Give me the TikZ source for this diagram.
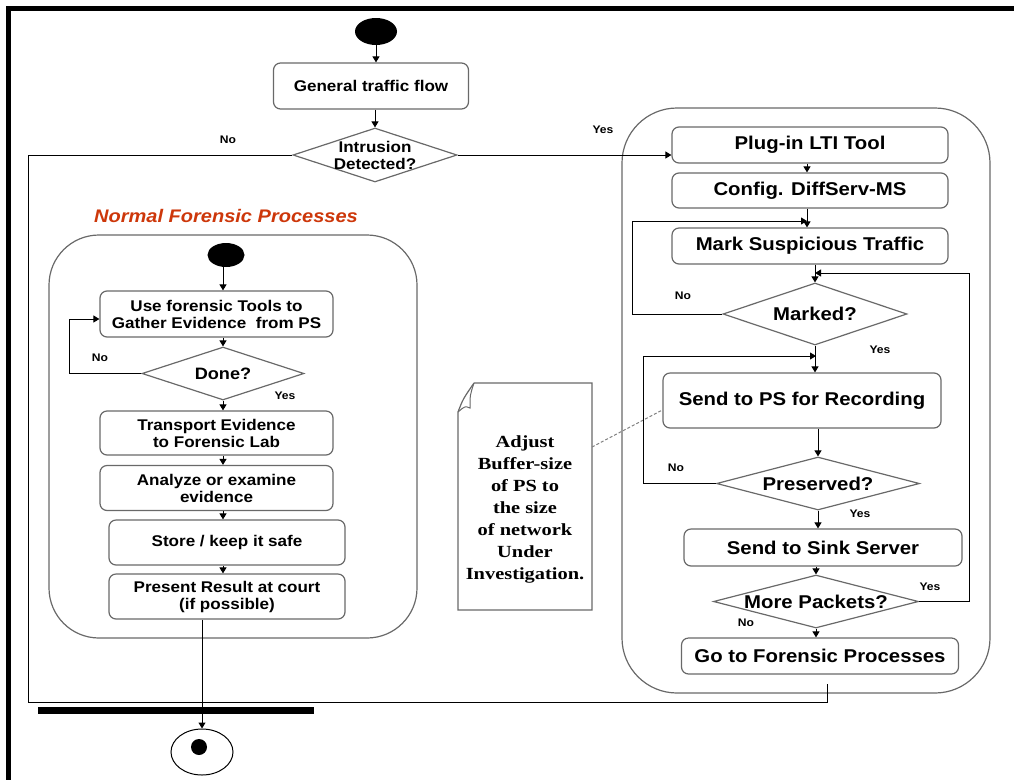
\documentclass[tikz,border=0pt]{standalone}
\usepackage{fontspec}
\newfontfamily\bx[FakeStretch=1.1]{Liberation Sans}
\newfontfamily\nt[FakeStretch=1.2]{Liberation Serif}
\usetikzlibrary{shapes.geometric,arrows.meta}
\definecolor{boxgray}{RGB}{105,105,105}
\definecolor{titlered}{RGB}{205,55,10}
\tikzset{
  box/.style={draw=boxgray, line width=1.2pt, rounded corners=7pt, fill=white, align=center, inner sep=0pt,
    font=\bx\bfseries\fontsize{15.5}{17}\selectfont},
  rbox/.style={box, font=\bx\bfseries\fontsize{18.5}{21}\selectfont},
  dia/.style={diamond, draw=boxgray, line width=1.2pt, inner sep=0pt, fill=white},
  dlab/.style={align=center, inner sep=0pt, font=\bx\bfseries\fontsize{15.5}{17}\selectfont},
  rdlab/.style={dlab, font=\bx\bfseries\fontsize{18.5}{21}\selectfont},
  startnode/.style={ellipse, fill=black, inner sep=0pt},
  cont/.style={draw=boxgray, line width=1.2pt, rounded corners=50pt},
  arr/.style={line width=1pt, -{Triangle[length=6pt,width=7pt]}},
  conn/.style={line width=1pt},
  small/.style={font=\bx\bfseries\fontsize{11}{12}\selectfont, inner sep=0pt},
  notetext/.style={align=center, inner sep=0pt, font=\nt\bfseries\fontsize{17}{22}\selectfont},
}
\begin{document}
\begin{tikzpicture}[x=1pt,y=-1pt]
\useasboundingbox (0,0) rectangle (1014,780);
% frame
\fill[black] (6,6) rectangle (1014,11);
\fill[black] (6,6) rectangle (11,780);

% containers
\draw[cont] (49,235) rectangle (417,638);
\draw[cont, rounded corners=55pt] (622,108) rectangle (990,693);

% title
\node[font=\bx\bfseries\itshape\fontsize{18.2}{20}\selectfont, text=titlered, inner sep=0pt] (title) at (226,216) {Normal Forensic Processes};

% top part
\node[startnode, minimum width=42pt, minimum height=27pt] (s1) at (376,31.5) {};
\node[box, minimum width=195pt, minimum height=46pt] (gtf) at (371,86) {General traffic flow};
\node[dia, minimum width=164pt, minimum height=54pt, label={[dlab]center:{Intrusion\\Detected?}}] (intr) at (375,155) {};

% right column
\node[rbox, minimum width=276pt, minimum height=36pt] (plug) at (810,145) {Plug-in LTI Tool};
\node[rbox, minimum width=276pt, minimum height=35pt] (cfg) at (810,190.5) {Config. DiffServ-MS};
\node[rbox, minimum width=276pt, minimum height=36pt] (mark) at (810,246) {Mark Suspicious Traffic};
\node[dia, minimum width=184pt, minimum height=62pt, label={[rdlab]center:{Marked?}}] (marked) at (815,314) {};
\node[rbox, minimum width=278pt, minimum height=55pt] (send) at (802,400.5) {Send to PS for Recording};
\node[dia, minimum width=203pt, minimum height=53pt, label={[rdlab]center:{Preserved?}}] (pres) at (818,483.5) {};
\node[rbox, minimum width=278pt, minimum height=37pt] (sink) at (823,547.5) {Send to Sink Server};
\node[dia, minimum width=205pt, minimum height=53pt, label={[rdlab]center:{More Packets?}}] (more) at (816,601.5) {};
\node[rbox, minimum width=277pt, minimum height=36pt] (goto) at (820,656) {Go to Forensic Processes};

% left column
\node[startnode, minimum width=37pt, minimum height=24pt] (s2) at (226,255) {};
\node[box, minimum width=233pt, minimum height=46pt] (use) at (216.5,314) {Use forensic Tools to\\Gather Evidence\ \ from PS};
\node[dia, minimum width=162pt, minimum height=53pt, label={[dlab, font=\bx\bfseries\fontsize{16.5}{18}\selectfont]center:{Done?}}] (done) at (223,373.5) {};
\node[box, minimum width=233pt, minimum height=44pt] (trans) at (216.5,433) {Transport Evidence\\to Forensic Lab};
\node[box, minimum width=233pt, minimum height=45pt] (anal) at (216.5,488) {Analyze or examine\\evidence};
\node[box, minimum width=236pt, minimum height=45pt] (store) at (227,542.5) {Store / keep it safe};
\node[box, minimum width=236pt, minimum height=45pt] (pres2) at (227,596.5) {Present Result at court\\(if possible)};

% end
\fill[black] (38,707) rectangle (314,714);
\node[ellipse, draw=black, line width=1pt, fill=white, minimum width=62pt, minimum height=46pt, inner sep=0pt] (final) at (202,752) {};
\fill[black] ([xshift=-3pt,yshift=5pt]final.center) circle (8);

% note
\draw[boxgray, line width=1.2pt, fill=white]
  (474,383) -- (592,383) -- (592,610) -- (458,610) -- (458,412)
  .. controls (463,399) .. (474,383);
\draw[boxgray, line width=1pt] (474,383) .. controls (470,395) .. (470,408) .. controls (465,406) .. (458,412);
\node[notetext] (note) at (525,509) {Adjust\\Buffer-size\\of PS to\\the size\\of network\\Under\\Investigation.};
\coordinate (notept) at (592,447);
\draw[conn, dashed, gray, dash pattern=on 3pt off 2pt] (notept) -- ([yshift=-9.5pt]send.west);

% coordinates for loops
\coordinate (nocorner) at (28,702);
\coordinate (gend) at (827,684);
\coordinate (loopA) at (632,221);
\coordinate (mergeA) at (807,221);
\coordinate (loopB) at (643,356);
\coordinate (mergeB) at (816,356);
\coordinate (loopC) at (969,273);
\coordinate (mergeC) at (815,273);
\coordinate (loopD) at (69,319);

% top connectors
\draw[arr] (s1.south) -- (s1.south |- gtf.north);
\draw[arr] (intr.north |- gtf.south) -- (intr.north);
\draw[conn] (intr.west) -| (nocorner) -| (gend);
\draw[arr] (intr.east) -- (intr.east -| plug.west);

% right connectors
\draw[arr] ([xshift=-3pt]plug.south) -- ([xshift=-3pt]plug.south |- cfg.north);
\draw[arr] ([xshift=-3pt]cfg.south) -- ([xshift=-3pt]cfg.south |- mark.north);
\draw[arr] (marked.north |- mark.south) -- (marked.north);
\draw[arr] (marked.south) -- (marked.south |- send.north);
\draw[arr] (pres.north |- send.south) -- (pres.north);
\draw[arr] (pres.south) -- (pres.south |- sink.north);
\draw[arr] (more.north |- sink.south) -- (more.north);
\draw[arr] (more.south) -- (more.south |- goto.north);
\draw[arr] (marked.west) -| (loopA) -- (mergeA);
\draw[arr] (pres.west) -| (loopB) -- (mergeB);
\draw[arr] (more.east) -| (loopC) -- (mergeC);

% left connectors
\draw[arr] (done.north |- s2.south) -- (done.north |- use.north);
\draw[arr] (done.north |- use.south) -- (done.north);
\draw[arr] (done.south) -- (done.south |- trans.north);
\draw[arr] (done.south |- trans.south) -- (done.south |- anal.north);
\draw[arr] (done.south |- anal.south) -- (done.south |- store.north);
\draw[arr] (done.south |- store.south) -- (done.south |- pres2.north);
\draw[arr] (done.west) -| (loopD) -- (loopD -| use.west);
\draw[arr] (final.north |- pres2.south) -- (final.north);

% labels
\node[small] (l1) at (228,140) {No};
\node[small] (l2) at (603,130) {Yes};
\node[small] (l3) at (683,296) {No};
\node[small] (l4) at (880,350) {Yes};
\node[small] (l5) at (676,468) {No};
\node[small] (l6) at (860,514) {Yes};
\node[small] (l7) at (930,587) {Yes};
\node[small] (l8) at (746,623) {No};
\node[small] (l9) at (100,358) {No};
\node[small] (l10) at (285,396) {Yes};
\end{tikzpicture}
\end{document}
